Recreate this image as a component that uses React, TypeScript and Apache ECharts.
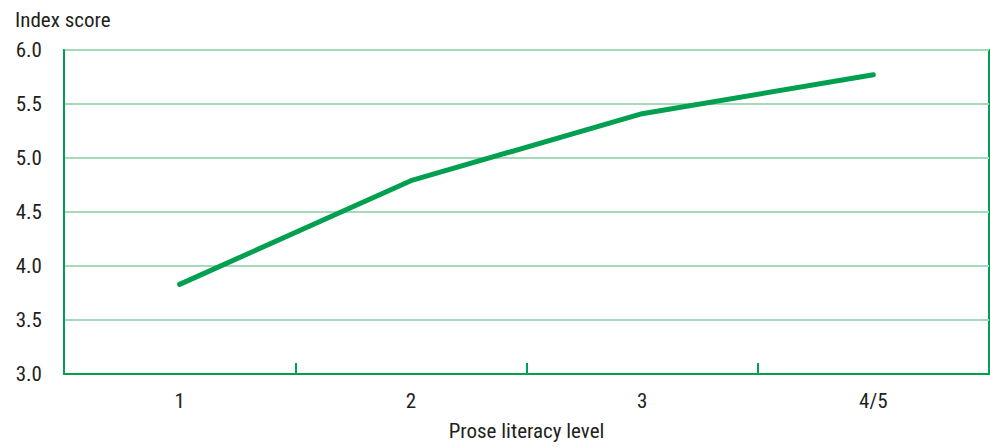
import React, { useEffect, useRef } from "react";
import * as echarts from "echarts";

const categories = ["1", "2", "3", "4/5"];
const indexScores = [3.83, 4.79, 5.41, 5.77];
const yTicks = [3.0, 3.5, 4.0, 4.5, 5.0, 5.5, 6.0];

const FONT = "'Roboto Condensed', 'Roboto', 'Liberation Sans', sans-serif";
const GREEN = "#00a050";
const GRID_GREEN = "#a6d8ba";
const TEXT = "#231f20";

export default function App() {
  const ref = useRef<HTMLDivElement>(null);
  useEffect(() => {
    if (!ref.current) return;
    const chart = echarts.init(ref.current, null, { renderer: "svg" });
    chart.setOption({
      animation: false,
      grid: {
        left: 64,
        right: 1,
        top: 50,
        bottom: 73,
        show: true,
        borderColor: GREEN,
        borderWidth: 2,
      },
      xAxis: {
        type: "category",
        data: categories,
        boundaryGap: true,
        name: "Prose literacy level",
        nameLocation: "middle",
        nameGap: 46,
        nameTextStyle: { fontFamily: FONT, fontSize: 21, color: TEXT },
        axisLine: { show: true, lineStyle: { color: GREEN, width: 2 } },
        axisTick: { show: true, inside: true, length: 11, lineStyle: { color: GREEN, width: 2 } },
        axisLabel: { fontFamily: FONT, fontSize: 21, color: TEXT, margin: 16 },
        splitLine: { show: false },
      },
      yAxis: {
        type: "value",
        min: yTicks[0],
        max: yTicks[yTicks.length - 1],
        interval: 0.5,
        name: "Index score",
        nameLocation: "end",
        nameGap: 20,
        nameTextStyle: { fontFamily: FONT, fontSize: 21, color: TEXT, align: "left", padding: [0, 0, 0, -49] },
        axisLine: { show: true, lineStyle: { color: GREEN, width: 2 } },
        axisTick: { show: false },
        axisLabel: {
          fontFamily: FONT,
          fontSize: 21,
          color: TEXT,
          margin: 22,
          formatter: (v: number) => v.toFixed(1),
        },
        splitLine: { show: true, lineStyle: { color: GRID_GREEN, width: 2 } },
      },
      series: [
        {
          type: "line",
          data: indexScores,
          symbol: "none",
          lineStyle: { color: GREEN, width: 5, cap: "round", join: "round" },
        },
      ],
    });
    return () => chart.dispose();
  }, []);
  return <div ref={ref} style={{ width: 990, height: 447, position: "absolute", left: 0, top: 0 }} />;
}
